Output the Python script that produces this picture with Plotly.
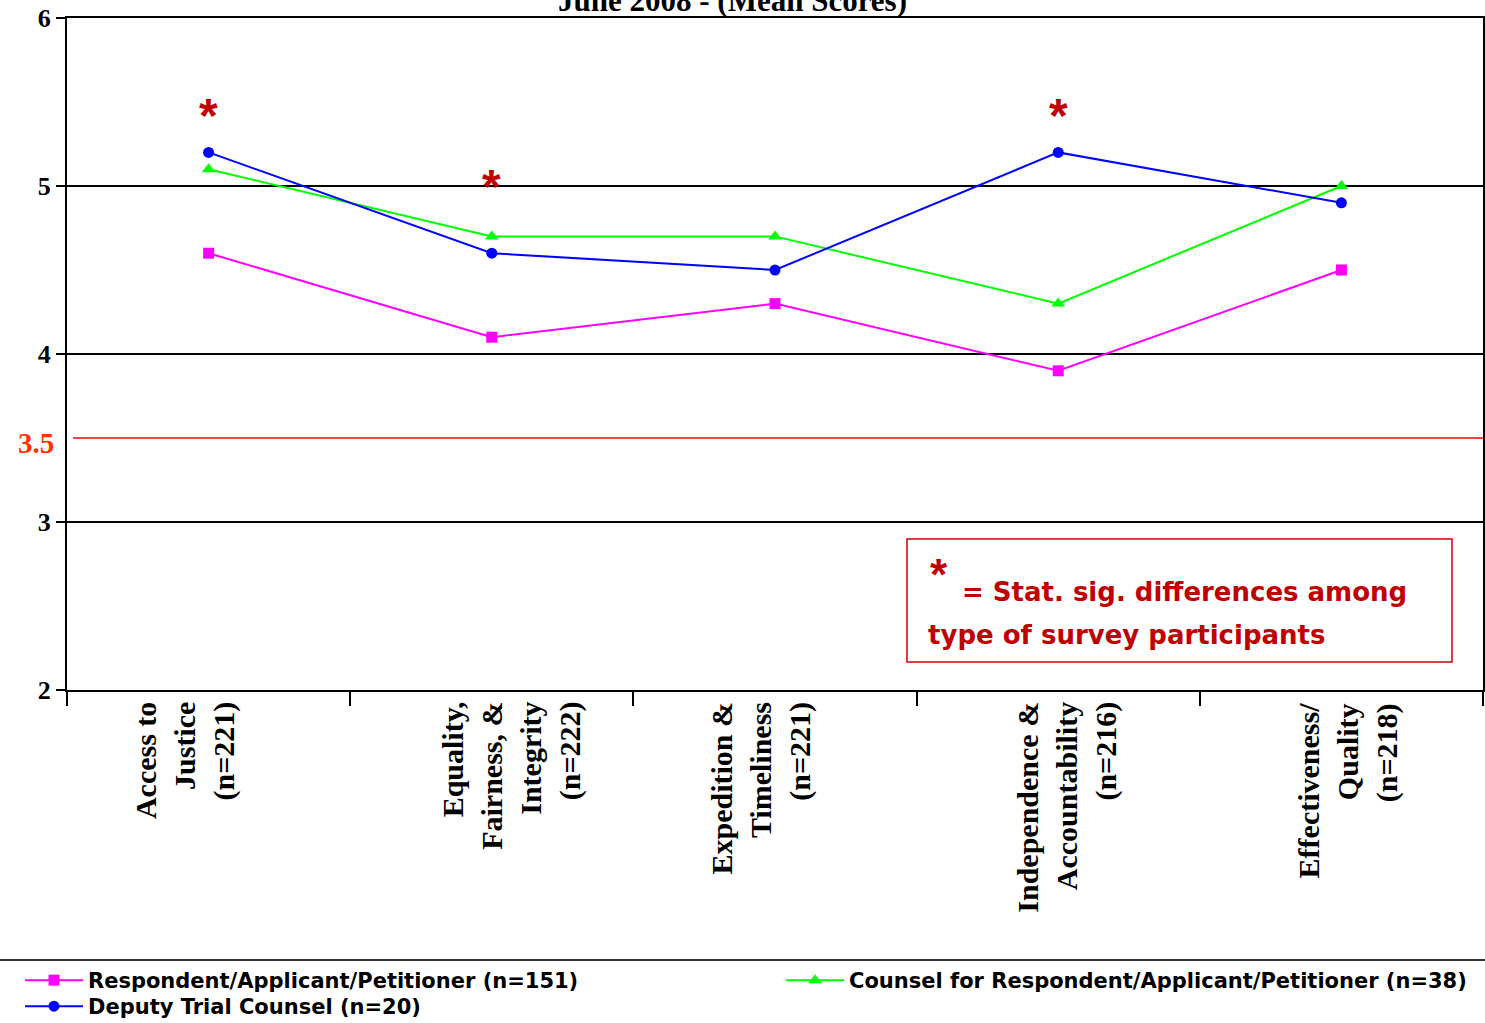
import plotly.graph_objects as go

categories = [
    "Access to<br>Justice<br>(n=221)",
    "Equality,<br>Fairness, &<br>Integrity<br>(n=222)",
    "Expedition &<br>Timeliness<br>(n=221)",
    "Independence &<br>Accountability<br>(n=216)",
    "Effectiveness/<br>Quality<br>(n=218)",
]
respondent = [4.6, 4.1, 4.3, 3.9, 4.5]
counsel = [5.1, 4.7, 4.7, 4.3, 5.0]
deputy = [5.2, 4.6, 4.5, 5.2, 4.9]

sig_categories = [categories[0], categories[1], categories[3]]
sig_y = [5.42, 5.0, 5.42]

y_ticks = [2, 3, 4, 5, 6]
threshold = 3.5

# per-label horizontal offsets of the rotated category labels (px)
label_shift = [-24, 19, -15, 8, 7]

W, H = 1485, 1023
ml, mr, mt, mb = 67, 2, 18, 333

serif = "Liberation Serif"
sans = "Liberation Sans"
wide_sans = "DejaVu Sans"
sig_red = "#C00000"

fig = go.Figure()
fig.add_trace(go.Scatter(
    x=categories, y=respondent, mode="lines+markers",
    name="Respondent/Applicant/Petitioner (n=151)",
    line=dict(color="#FF00FF", width=2),
    marker=dict(symbol="square", size=11, color="#FF00FF"),
    legend="legend",
))
fig.add_trace(go.Scatter(
    x=categories, y=counsel, mode="lines+markers",
    name="Counsel for Respondent/Applicant/Petitioner (n=38)",
    line=dict(color="#00FF00", width=2),
    marker=dict(symbol="triangle-up", size=12, color="#00FF00"),
    legend="legend2",
))
fig.add_trace(go.Scatter(
    x=categories, y=deputy, mode="lines+markers",
    name="Deputy Trial Counsel (n=20)",
    line=dict(color="#0000FF", width=2),
    marker=dict(symbol="circle", size=11, color="#0000FF"),
    legend="legend3",
))

pw = W - ml - mr
ph = H - mt - mb
def px(xp):
    return (xp - ml) / pw
def py(yp):
    return (H - mb - yp) / ph

annotations = []
for c, s in zip(categories, label_shift):
    annotations.append(dict(
        x=c, y=py(700), xref="x", yref="paper", text="<b>" + c + "</b>",
        showarrow=False, textangle=-90, align="right",
        xanchor="center", yanchor="top", xshift=s,
        font=dict(family=serif, size=30, color="black"),
    ))

for c, yv in zip(sig_categories, sig_y):
    annotations.append(dict(
        x=c, y=yv, xref="x", yref="y", text="<b>*</b>", showarrow=False,
        font=dict(family=sans, size=48, color=sig_red),
        xanchor="center", yanchor="middle",
    ))

# threshold label
annotations.append(dict(
    x=px(56), y=threshold, xref="paper", yref="y", text="<b>3.5</b>",
    showarrow=False, xanchor="right", yanchor="middle", yshift=-5,
    font=dict(family=serif, size=29, color="#FF3300"),
))

# title (cut off at top)
annotations.append(dict(
    x=px(732), y=py(1), xref="paper", yref="paper",
    text="<b>June 2008 - (Mean Scores)</b>", showarrow=False,
    xanchor="center", yanchor="middle",
    font=dict(family=serif, size=31, color="black"),
))

annotations.append(dict(
    x=px(928), y=py(574), xref="paper", yref="paper", text="<b>*</b>",
    showarrow=False, xanchor="left", yanchor="middle",
    font=dict(family=sans, size=44, color=sig_red),
))
annotations.append(dict(
    x=px(960), y=py(592), xref="paper", yref="paper",
    text="<b>= Stat. sig. differences among</b>",
    showarrow=False, xanchor="left", yanchor="middle",
    font=dict(family=wide_sans, size=26, color=sig_red),
))
annotations.append(dict(
    x=px(926), y=py(635), xref="paper", yref="paper",
    text="<b>type of survey participants</b>",
    showarrow=False, xanchor="left", yanchor="middle",
    font=dict(family=wide_sans, size=26, color=sig_red),
))

shapes = [
    dict(type="line", xref="paper", yref="y", x0=px(73), x1=1, y0=threshold, y1=threshold,
         line=dict(color="#FF0000", width=1.5), layer="below"),
    dict(type="rect", xref="paper", yref="paper", x0=px(907), x1=px(1452), y0=py(662), y1=py(539),
         line=dict(color="#D00000", width=1.5), fillcolor="rgba(0,0,0,0)"),
    dict(type="line", xref="paper", yref="paper", x0=px(0), x1=px(W), y0=py(960), y1=py(960),
         line=dict(color="#333333", width=2)),
]

legend_font = dict(family=wide_sans, size=21, color="black", weight="bold")

def legend_at(xpix, ypix):
    return dict(
        xref="container", yref="container",
        x=xpix / W, y=1 - ypix / H, xanchor="left", yanchor="top",
        orientation="v", bgcolor="rgba(0,0,0,0)",
        font=legend_font, itemwidth=58, tracegroupgap=0,
    )

fig.update_layout(
    width=W, height=H,
    margin=dict(l=ml, r=mr, t=mt, b=mb, pad=0, autoexpand=False),
    paper_bgcolor="white", plot_bgcolor="white",
    showlegend=True,
    annotations=annotations,
    shapes=shapes,
    xaxis=dict(
        type="category", tickson="boundaries",
        showline=True, linecolor="black", linewidth=2, mirror=True,
        showgrid=False, ticks="outside", ticklen=14, tickcolor="black", tickwidth=2,
        showticklabels=False, automargin=False,
        range=[-0.5, 4.5],
    ),
    yaxis=dict(
        range=[2, 6], tickvals=y_ticks, automargin=False,
        showline=True, linecolor="black", linewidth=2, mirror=True,
        showgrid=True, gridcolor="black", gridwidth=1.5,
        ticks="outside", ticklen=9, tickcolor="black", tickwidth=2,
        tickfont=dict(family=serif, size=26, color="black", weight="bold"),
        zeroline=False,
    ),
    legend=legend_at(20, 960),
    legend2=legend_at(781, 960),
    legend3=legend_at(20, 986),
)

fig.write_html("out.html")
